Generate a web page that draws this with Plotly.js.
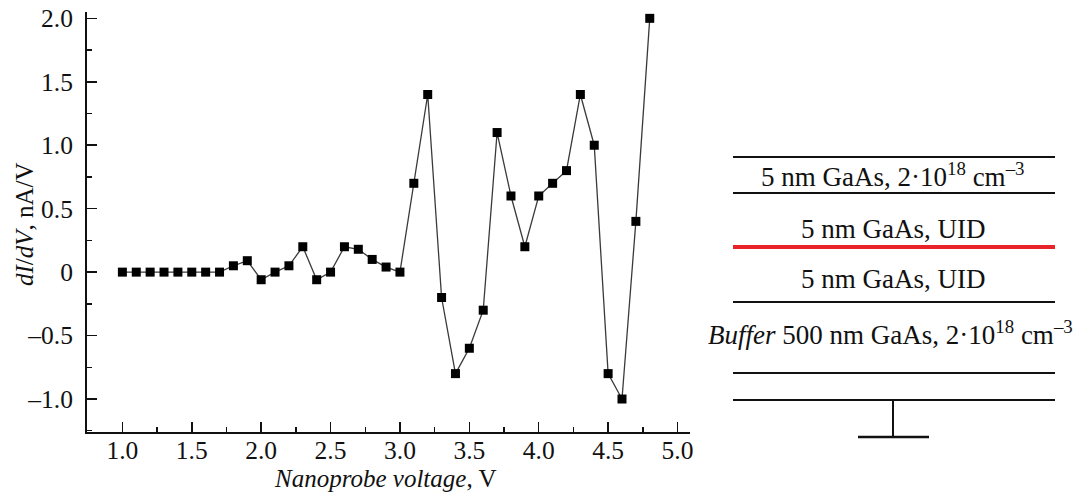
<!DOCTYPE html>
<html><head><meta charset="utf-8">
<script src="https://cdn.plot.ly/plotly-3.0.1.min.js"></script>
<style>html,body{margin:0;padding:0;background:#fff}</style>
</head><body>
<div id="chart" style="width:1075px;height:494px"></div>
<script>
// Data
const voltage = [1.0,1.1,1.2,1.3,1.4,1.5,1.6,1.7,1.8,1.9,2.0,2.1,2.2,2.3,2.4,2.5,2.6,2.7,2.8,2.9,3.0,3.1,3.2,3.3,3.4,3.5,3.6,3.7,3.8,3.9,4.0,4.1,4.2,4.3,4.4,4.5,4.6,4.7,4.8];
const dIdV =    [0,0,0,0,0,0,0,0,0.05,0.09,-0.06,0,0.05,0.2,-0.06,0,0.2,0.18,0.1,0.04,0,0.7,1.4,-0.2,-0.8,-0.6,-0.3,1.1,0.6,0.2,0.6,0.7,0.8,1.4,1.0,-0.8,-1.0,0.4,2.0];
const xTickVals = [1.0,1.5,2.0,2.5,3.0,3.5,4.0,4.5,5.0];
const xTickText = ["1.0","1.5","2.0","2.5","3.0","3.5","4.0","4.5","5.0"];
const yTickVals = [-1.0,-0.5,0,0.5,1.0,1.5,2.0];
const yTickText = ["\u20131.0","\u20130.5","0","0.5","1.0","1.5","2.0"];
const xTitle = "<i>Nanoprobe voltage</i>, V";
const yTitle = "<i>dI</i>/<i>dV</i>, nA/V";
// Layer schematic labels (top to bottom)
const layerLabels = [
  "5 nm GaAs, 2\u00b710<sup>18</sup> cm<sup>\u20133</sup>",
  "5 nm GaAs, UID",
  "5 nm GaAs, UID",
  "<i>Buffer</i> 500 nm GaAs, 2\u00b710<sup>18</sup> cm<sup>\u20133</sup>"
];

const W = 1075, H = 494;
const serif = "Liberation Serif, Times New Roman, serif";
// pixel -> paper helpers (margins are zero, so paper == whole figure)
const px = x => x / W;
const py = y => 1 - y / H;

const trace = {
  x: voltage, y: dIdV, type: 'scatter', mode: 'lines+markers',
  line: {color: '#3a3a3a', width: 1.3},
  marker: {symbol: 'square', size: 9, color: '#000'},
  showlegend: false, hoverinfo: 'skip'
};

// schematic geometry (pixel positions)
const layerLinesY = [157, 193, 302, 373, 400];
const redLineY = 247;
const lineX0 = 733, lineX1 = 1055;
const shapes = [];
const hline = (x0, x1, y, color, width) => ({type:'line', xref:'paper', yref:'paper',
  x0: px(x0), x1: px(x1), y0: py(y), y1: py(y), line:{color, width}});
layerLinesY.forEach(y => shapes.push(hline(lineX0, lineX1, y, '#111', 2)));
shapes.push(hline(lineX0, lineX1, redLineY, '#e8232a', 4));
shapes.push({type:'line', xref:'paper', yref:'paper', x0: px(893), x1: px(893), y0: py(400), y1: py(437), line:{color:'#111', width:2}});
shapes.push(hline(858, 929, 437, '#111', 2.5));

const labelY = [175, 229, 279, 333];
const labelX = [893, 893, 893, 890];
const annotations = layerLabels.map((t, i) => ({
  text: t, xref: 'paper', yref: 'paper', x: px(labelX[i]), y: py(labelY[i]),
  xanchor: 'center', yanchor: 'middle', showarrow: false,
  font: {family: serif, size: 27, color: '#111'}
}));
annotations.push({text: xTitle, xref: 'paper', yref: 'paper', x: px(385), y: py(478), xanchor: 'center', yanchor: 'middle',
  showarrow: false, font: {family: serif, size: 25, color: '#111'}});
annotations.push({text: yTitle, xref: 'paper', yref: 'paper', x: px(24), y: py(224), xanchor: 'center', yanchor: 'middle',
  textangle: -90, showarrow: false, font: {family: serif, size: 25, color: '#111'}});

const layout = {
  width: W, height: H,
  margin: {l:0, r:0, t:0, b:0},
  paper_bgcolor: '#fff', plot_bgcolor: 'rgba(0,0,0,0)',
  font: {family: serif, color: '#111'},
  xaxis: {
    domain: [87/W, 690/W], range: [0.745, 5.09],
    showline: true, linecolor: '#111', linewidth: 2, mirror: false,
    showgrid: false, zeroline: false,
    tickmode: 'array', tickvals: xTickVals, ticktext: xTickText,
    ticks: 'inside', ticklen: 10, tickwidth: 1.5, tickcolor: '#111',
    minor: {dtick: 0.25, tick0: 0, ticks: 'inside', ticklen: 5, tickwidth: 1.5, tickcolor: '#111', showgrid: false},
    tickfont: {family: serif, size: 25.5, color: '#111'},
    ticklabelstandoff: -6
  },
  yaxis: {
    domain: [1-432/H, 1-12/H], range: [-1.26, 2.05],
    showline: true, linecolor: '#111', linewidth: 2, mirror: false,
    showgrid: false, zeroline: false,
    tickmode: 'array', tickvals: yTickVals, ticktext: yTickText,
    ticks: 'inside', ticklen: 10, tickwidth: 1.5, tickcolor: '#111',
    minor: {dtick: 0.25, tick0: 0, ticks: 'inside', ticklen: 5, tickwidth: 1.5, tickcolor: '#111', showgrid: false},
    tickfont: {family: serif, size: 25.5, color: '#111'},
    ticklabelstandoff: 7
  },
  shapes: shapes,
  annotations: annotations
};

Plotly.newPlot('chart', [trace], layout, {staticPlot: true, displayModeBar: false});
</script>
</body></html>
